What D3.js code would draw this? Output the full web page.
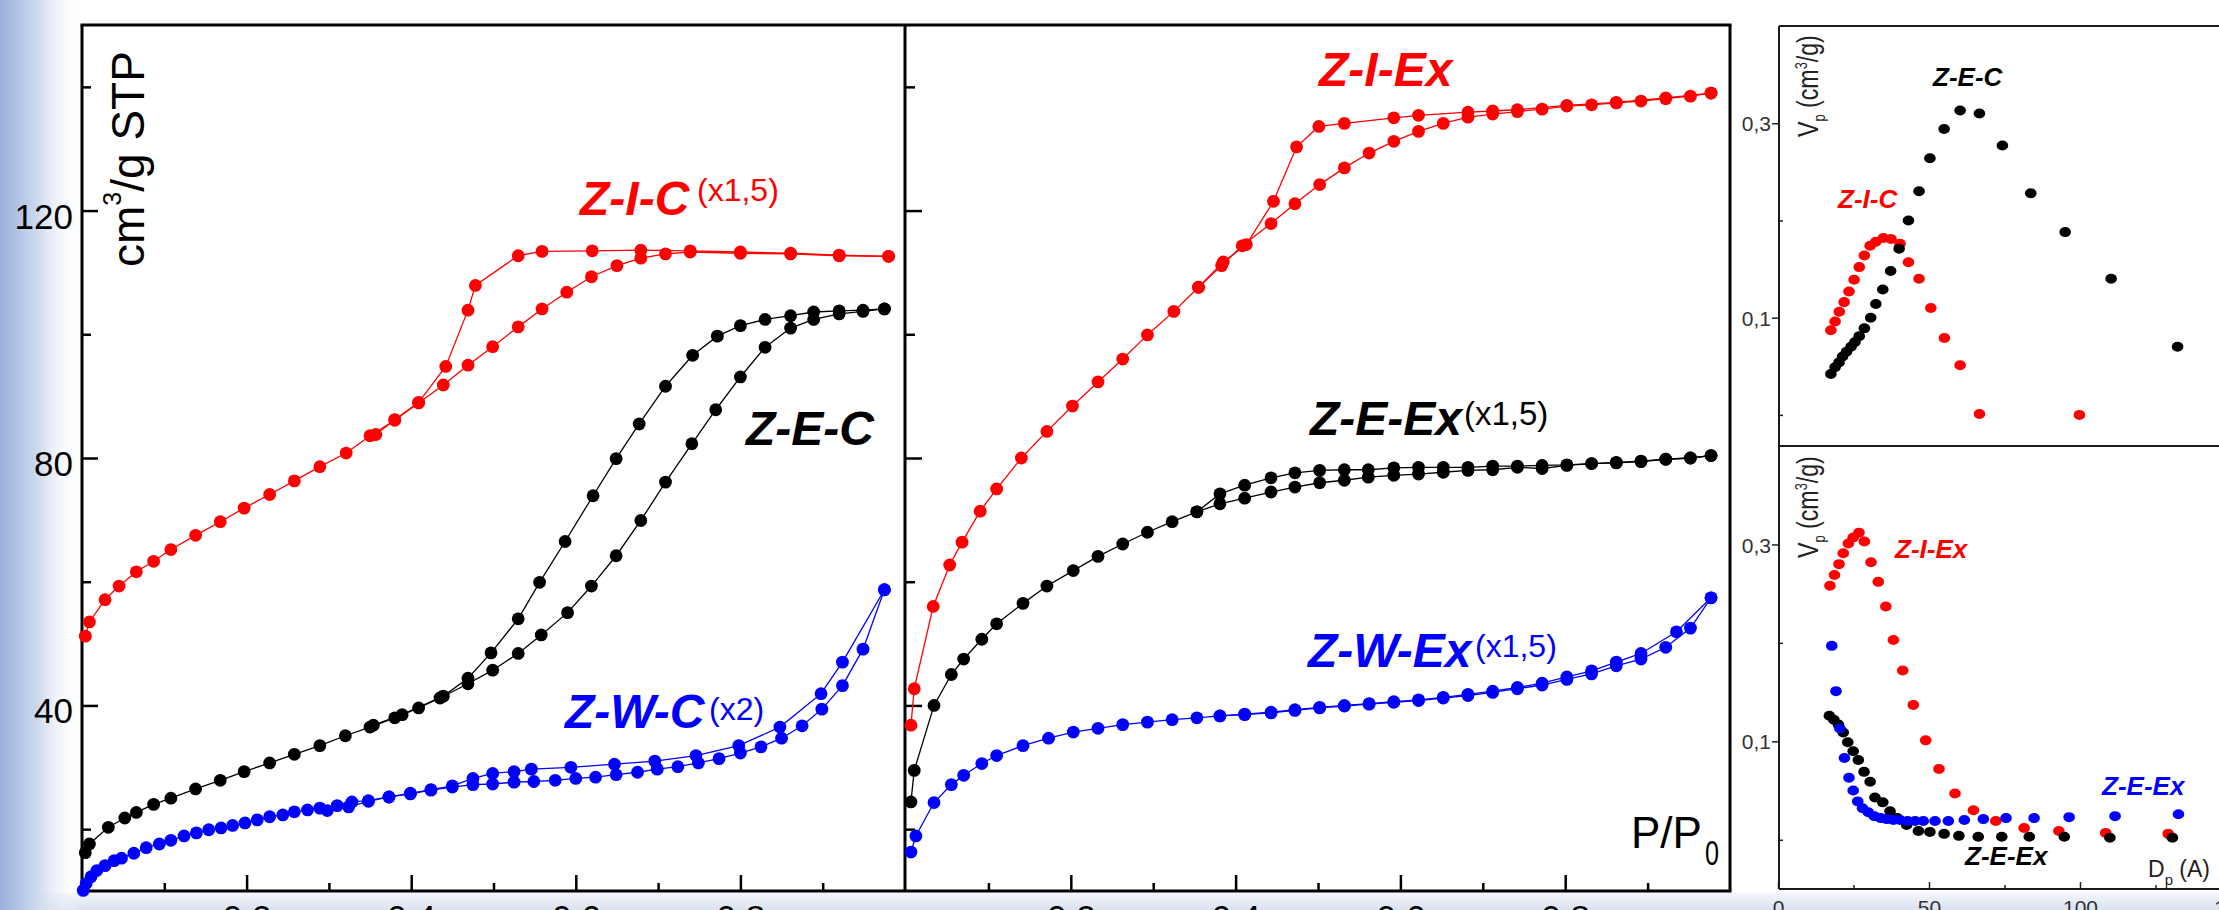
<!DOCTYPE html>
<html>
<head>
<meta charset="utf-8">
<script src="https://cdn.jsdelivr.net/npm/d3@7"></script>
<style>
html, body { margin: 0; padding: 0; background: #fff; overflow: hidden; }
svg { display: block; }
</style>
</head>
<body>
<svg id="chart" width="2219" height="910"></svg>
<script>
// ---------- Isotherms (P/P0, cm3/g STP) ----------
const zicAds = [[0.004,51.2],[0.009,53.5],[0.028,57.1],[0.045,59.3],[0.066,61.6],[0.087,63.3],[0.108,65.2],[0.138,67.5],[0.168,69.7],[0.197,71.9],[0.228,74.1],[0.258,76.3],[0.289,78.6],[0.321,80.8],[0.350,83.6],[0.380,86.1],[0.409,88.9],[0.439,91.8],[0.469,95.0],[0.499,98.0],[0.530,101.2],[0.559,104.1],[0.589,106.8],[0.619,109.3],[0.650,111.1],[0.679,112.3],[0.709,113.0],[0.739,113.3],[0.800,113.1],[0.861,113.0],[0.920,112.7],[0.980,112.6]];
const zicDes = [[0.980,112.6],[0.920,112.8],[0.861,113.1],[0.800,113.3],[0.739,113.5],[0.679,113.6],[0.620,113.5],[0.559,113.4],[0.530,112.7],[0.478,107.9],[0.469,103.9],[0.442,94.8],[0.409,89.0],[0.380,86.2],[0.357,83.8]];

const zecAds = [[0.004,16.2],[0.009,17.6],[0.032,20.3],[0.052,21.8],[0.066,22.7],[0.087,24.0],[0.108,25.0],[0.138,26.5],[0.168,27.9],[0.197,29.3],[0.228,30.7],[0.258,32.1],[0.289,33.5],[0.320,35.1],[0.350,36.5],[0.380,38.0],[0.409,39.6],[0.435,41.2],[0.469,43.5],[0.499,45.7],[0.530,48.4],[0.558,51.4],[0.590,55.0],[0.619,59.3],[0.649,64.2],[0.679,69.9],[0.709,76.1],[0.741,82.3],[0.770,87.8],[0.800,93.1],[0.830,97.9],[0.861,101.0],[0.889,102.4],[0.920,103.3],[0.949,103.7],[0.975,104.1]];
const zecDes = [[0.975,104.1],[0.949,103.9],[0.920,103.8],[0.889,103.6],[0.861,103.0],[0.830,102.4],[0.800,101.4],[0.772,99.7],[0.742,96.6],[0.709,91.6],[0.677,85.5],[0.649,79.9],[0.621,73.9],[0.587,66.5],[0.556,59.9],[0.530,54.0],[0.497,48.5],[0.469,44.4],[0.439,41.5],[0.389,38.5],[0.354,36.8]];

const zwcAds = [[0.0015,10.1],[0.005,11.2],[0.011,12.3],[0.018,13.3],[0.028,14.1],[0.039,14.9],[0.048,15.3],[0.063,16.1],[0.078,17.0],[0.094,17.6],[0.108,18.2],[0.124,18.9],[0.139,19.4],[0.154,19.9],[0.169,20.2],[0.183,20.6],[0.198,21.0],[0.213,21.5],[0.228,22.0],[0.244,22.3],[0.258,22.8],[0.274,23.1],[0.289,23.4],[0.310,23.8],[0.328,24.4],[0.348,24.6],[0.373,25.2],[0.399,25.7],[0.424,26.3],[0.450,26.8],[0.475,27.2],[0.499,27.3],[0.525,27.6],[0.549,27.7],[0.575,27.9],[0.600,28.2],[0.624,28.4],[0.649,28.8],[0.675,29.2],[0.699,29.7],[0.724,30.1],[0.749,30.7],[0.774,31.4],[0.800,32.3],[0.825,33.3],[0.850,34.7],[0.875,36.7],[0.899,39.4],[0.924,43.2],[0.949,49.1],[0.975,58.7]];
const zwcDes = [[0.975,58.7],[0.924,47.0],[0.898,41.9],[0.848,36.5],[0.798,33.5],[0.746,31.9],[0.696,31.0],[0.647,30.5],[0.594,30.0],[0.546,29.7],[0.525,29.3],[0.499,29.0],[0.475,28.2],[0.450,27.0],[0.424,26.4],[0.399,25.8],[0.373,25.2],[0.348,24.5],[0.324,23.6],[0.298,23.0]];

const zieAds = [[0.006,36.8],[0.010,42.7],[0.033,56.0],[0.053,62.7],[0.068,66.4],[0.090,71.4],[0.110,75.0],[0.140,80.0],[0.171,84.3],[0.202,88.4],[0.233,92.3],[0.263,96.0],[0.293,99.9],[0.325,103.7],[0.355,107.6],[0.383,111.1],[0.408,114.3],[0.443,117.9],[0.472,121.1],[0.502,124.2],[0.532,126.9],[0.562,129.3],[0.592,131.2],[0.622,132.8],[0.652,134.1],[0.682,135.1],[0.712,135.6],[0.742,136.0],[0.772,136.4],[0.802,136.9],[0.832,137.1],[0.862,137.4],[0.892,137.7],[0.922,138.1],[0.952,138.5],[0.977,139.0]];
const zieDes = [[0.977,139.0],[0.922,138.2],[0.862,137.5],[0.802,137.0],[0.742,136.3],[0.712,136.1],[0.682,135.9],[0.622,135.4],[0.592,135.0],[0.532,134.1],[0.501,133.6],[0.474,130.3],[0.446,121.5],[0.413,114.5],[0.385,111.7],[0.355,107.6]];

const zeeAds = [[0.006,24.4],[0.010,29.5],[0.034,40.0],[0.055,45.0],[0.070,47.5],[0.092,50.7],[0.110,53.2],[0.142,56.5],[0.171,59.3],[0.203,61.8],[0.233,64.1],[0.263,66.1],[0.293,68.0],[0.323,69.7],[0.353,71.3],[0.381,72.6],[0.411,73.5],[0.443,74.5],[0.472,75.3],[0.502,76.0],[0.532,76.4],[0.561,76.9],[0.592,77.2],[0.622,77.4],[0.652,77.7],[0.682,78.0],[0.712,78.1],[0.742,78.5],[0.772,78.3],[0.802,78.8],[0.832,79.1],[0.862,79.2],[0.892,79.4],[0.922,79.8],[0.952,80.0],[0.977,80.4]];
const zeeDes = [[0.977,80.4],[0.952,80.0],[0.922,79.8],[0.892,79.5],[0.862,79.3],[0.832,79.1],[0.802,78.9],[0.772,78.8],[0.742,78.7],[0.712,78.7],[0.682,78.5],[0.652,78.5],[0.622,78.5],[0.592,78.4],[0.561,78.1],[0.532,78.1],[0.502,78.0],[0.472,77.6],[0.443,76.8],[0.411,75.6],[0.381,74.2],[0.353,71.3]];

const zweAds = [[0.006,16.3],[0.012,18.9],[0.034,24.3],[0.055,27.2],[0.070,28.7],[0.092,30.6],[0.110,31.9],[0.142,33.5],[0.173,34.7],[0.203,35.7],[0.233,36.3],[0.263,36.9],[0.293,37.3],[0.323,37.7],[0.353,38.0],[0.381,38.3],[0.411,38.5],[0.443,38.8],[0.472,39.2],[0.502,39.6],[0.532,39.9],[0.562,40.2],[0.592,40.5],[0.622,40.8],[0.652,41.2],[0.682,41.6],[0.712,42.1],[0.742,42.7],[0.772,43.3],[0.802,44.2],[0.832,45.1],[0.862,46.4],[0.892,47.5],[0.922,49.4],[0.952,52.5],[0.977,57.4]];
const zweDes = [[0.977,57.4],[0.935,51.9],[0.892,48.4],[0.862,47.0],[0.832,45.6],[0.802,44.6],[0.772,43.6],[0.742,42.9],[0.712,42.3],[0.682,41.8],[0.652,41.3],[0.622,40.9],[0.592,40.6],[0.562,40.3],[0.532,40.0],[0.502,39.7],[0.472,39.3],[0.443,38.9],[0.411,38.6],[0.381,38.3]];

// ---------- Pore size distributions (Dp in A, Vp in cm3/g) ----------
const zecPsd = [[17.5,0.042],[18.9,0.049],[20.2,0.054],[21.4,0.060],[22.7,0.065],[24.2,0.070],[25.5,0.075],[26.9,0.081],[28.6,0.089],[30.7,0.100],[32.4,0.114],[34.7,0.129],[37.3,0.148],[40.1,0.171],[43.2,0.200],[46.7,0.230],[50.3,0.264],[55.0,0.294],[60.3,0.313],[66.7,0.310],[74.3,0.277],[83.7,0.228],[95.1,0.188],[110.3,0.140],[132.3,0.070]];
const zicPsd = [[17.5,0.087],[18.9,0.096],[20.3,0.106],[21.9,0.116],[23.5,0.127],[25.2,0.139],[26.9,0.152],[28.6,0.164],[30.5,0.174],[32.4,0.178],[34.9,0.182],[37.4,0.181],[40.4,0.176],[43.2,0.157],[46.7,0.140],[50.6,0.110],[55.1,0.079],[60.3,0.051],[66.7,0.001],[99.8,0.000]];

const ziePsd = [[17.2,0.258],[18.7,0.269],[20.2,0.280],[21.6,0.291],[23.3,0.301],[24.9,0.307],[26.8,0.312],[28.6,0.303],[30.8,0.282],[33.2,0.262],[35.7,0.237],[38.2,0.203],[41.3,0.172],[44.8,0.137],[48.9,0.101],[53.3,0.072],[58.6,0.047],[64.7,0.030],[72.1,0.019],[81.5,0.012],[93.0,0.009],[108.5,0.007],[129.2,0.006]];
const zeePsd = [[17.0,0.126],[18.5,0.122],[20.0,0.117],[21.6,0.109],[23.1,0.099],[24.9,0.090],[26.6,0.081],[28.5,0.069],[30.5,0.059],[32.1,0.043],[34.7,0.038],[37.1,0.029],[39.5,0.022],[42.6,0.015],[46.5,0.009],[50.3,0.008],[55.0,0.006],[59.9,0.004],[66.3,0.003],[74.1,0.003],[83.2,0.003],[94.8,0.003],[109.9,0.002],[130.6,0.002]];
const zwePsd = [[17.8,0.197],[19.2,0.151],[20.5,0.113],[22.0,0.083],[23.5,0.063],[24.9,0.050],[26.4,0.039],[28.0,0.032],[29.9,0.028],[31.9,0.024],[34.0,0.022],[36.0,0.021],[38.2,0.020],[40.4,0.020],[42.9,0.019],[45.4,0.019],[48.1,0.019],[52.0,0.019],[56.4,0.019],[61.7,0.020],[68.0,0.021],[75.5,0.022],[84.8,0.022],[96.4,0.023],[111.6,0.024],[132.6,0.026]];

// ---------- Ticks ----------
const isoYMajor = [40, 80, 120];
const isoYMinor = [20, 60, 100, 140];
const isoXMajor = [0.2, 0.4, 0.6, 0.8];
const isoXMinor = [0.1, 0.3, 0.5, 0.7, 0.9];
const psdYMajor = [0.1, 0.3];
const psdYMinor = [0.0, 0.2];
const psdXMajor = [0, 50, 100, 150];
const psdXMinor = [25, 75, 125];

const RED = "#ff0000", BLACK = "#000000", BLUE = "#0000ff";
const SANS = "'Liberation Sans', Arial, sans-serif";
const comma = d3.format(".1f");
const commaFmt = d => comma(d).replace(".", ",");

const svg = d3.select("#chart");
const W = 2219, H = 910;

// ---------- Slide background edges ----------
const defs = svg.append("defs");
const gb = defs.append("linearGradient").attr("id", "edgeB")
  .attr("x1", 0).attr("x2", 0).attr("y1", 0).attr("y2", 1);
gb.append("stop").attr("offset", 0).attr("stop-color", "#f3f6fb");
gb.append("stop").attr("offset", 1).attr("stop-color", "#dae2f0");
svg.append("rect").attr("x", 0).attr("y", 893).attr("width", W).attr("height", H - 893)
  .attr("fill", "url(#edgeB)");
const gl = defs.append("linearGradient").attr("id", "edgeL")
  .attr("x1", 0).attr("x2", 1).attr("y1", 0).attr("y2", 0);
gl.append("stop").attr("offset", 0).attr("stop-color", "#9bb1dc").attr("stop-opacity", 1);
gl.append("stop").attr("offset", 0.45).attr("stop-color", "#ccd8ee").attr("stop-opacity", 1);
gl.append("stop").attr("offset", 1).attr("stop-color", "#ffffff").attr("stop-opacity", 0);
svg.append("rect").attr("x", 0).attr("y", 0).attr("width", 82).attr("height", H)
  .attr("fill", "url(#edgeL)");

// ---------- Scales ----------
const yIso = d3.scaleLinear().domain([10, 150]).range([891, 25]);
const xIso1 = d3.scaleLinear().domain([0, 1]).range([82, 905]);
const xIso2 = d3.scaleLinear().domain([0, 1]).range([906, 1730]);
const xPsd = d3.scaleLinear().domain([0, 150]).range([1778, 2231]);
const yPsdTop = d3.scaleLinear().domain([-0.032, 0.4]).range([446, 26]);
const yPsdBot = d3.scaleLinear().domain([-0.05, 0.4]).range([889, 446]);

// ---------- Axes helpers ----------
function styleAxis(g, fontSize, color) {
  g.select(".domain").remove();
  g.selectAll(".tick line").attr("stroke", color);
  g.selectAll(".tick text").attr("font-family", SANS).attr("font-size", fontSize).attr("fill", color);
}

// Isotherm panels: inward ticks
function isoAxes(xs, withLabels) {
  const gy = svg.append("g").attr("transform", `translate(${xs.range()[0]},0)`);
  gy.call(d3.axisLeft(yIso).tickValues(isoYMajor).tickSizeInner(-16).tickSizeOuter(0).tickPadding(9)
    .tickFormat(withLabels ? d3.format("d") : () => ""));
  styleAxis(gy, 35, "#000");
  gy.selectAll(".tick line").attr("stroke-width", 2.5);
  gy.selectAll(".tick text").attr("dy", "0.5em");
  const gym = svg.append("g").attr("transform", `translate(${xs.range()[0]},0)`);
  gym.call(d3.axisLeft(yIso).tickValues(isoYMinor).tickSizeInner(-9).tickSizeOuter(0).tickFormat(() => ""));
  styleAxis(gym, 35, "#000");
  gym.selectAll(".tick line").attr("stroke-width", 2.5);

  const gx = svg.append("g").attr("transform", `translate(0,891)`);
  gx.call(d3.axisBottom(xs).tickValues(isoXMajor).tickSizeInner(-16).tickSizeOuter(0).tickPadding(14)
    .tickFormat(commaFmt));
  styleAxis(gx, 35, "#000");
  gx.selectAll(".tick line").attr("stroke-width", 2.5);
  const gxm = svg.append("g").attr("transform", `translate(0,891)`);
  gxm.call(d3.axisBottom(xs).tickValues(isoXMinor).tickSizeInner(-8).tickSizeOuter(0).tickFormat(() => ""));
  styleAxis(gxm, 35, "#000");
  gxm.selectAll(".tick line").attr("stroke-width", 2.5);
}
isoAxes(xIso1, true);
isoAxes(xIso2, false);

// PSD panels
function psdYAxes(ys) {
  const g = svg.append("g").attr("transform", "translate(1779,0)");
  g.call(d3.axisLeft(ys).tickValues(psdYMajor).tickSizeInner(7).tickSizeOuter(0).tickPadding(1)
    .tickFormat(commaFmt));
  styleAxis(g, 21, "#333");
  g.selectAll(".tick line").attr("stroke-width", 1.5).attr("stroke", "#222");
  g.selectAll(".tick text").attr("dy", "0.36em");
  const gm = svg.append("g").attr("transform", "translate(1779,0)");
  gm.call(d3.axisLeft(ys).tickValues(psdYMinor).tickSizeInner(-4).tickSizeOuter(0).tickFormat(() => ""));
  styleAxis(gm, 21, "#333");
  gm.selectAll(".tick line").attr("stroke-width", 1.5).attr("stroke", "#222");
}
psdYAxes(yPsdTop);
psdYAxes(yPsdBot);
{
  const g = svg.append("g").attr("transform", "translate(0,889)");
  g.call(d3.axisBottom(xPsd).tickValues(psdXMajor).tickSizeInner(-7).tickSizeOuter(0).tickPadding(11)
    .tickFormat(d3.format("d")));
  styleAxis(g, 21, "#333");
  g.selectAll(".tick line").attr("stroke-width", 1.5).attr("stroke", "#222");
  const gm = svg.append("g").attr("transform", "translate(0,889)");
  gm.call(d3.axisBottom(xPsd).tickValues(psdXMinor).tickSizeInner(-4).tickSizeOuter(0).tickFormat(() => ""));
  styleAxis(gm, 21, "#333");
  gm.selectAll(".tick line").attr("stroke-width", 1.5).attr("stroke", "#222");
}

// ---------- Frames ----------
const frame = svg.append("g").attr("stroke", "#000").attr("stroke-width", 3).attr("fill", "none");
frame.append("line").attr("x1", xIso1.range()[0] - 1.5).attr("x2", xIso2.range()[1] + 1.5).attr("y1", yIso.range()[1]).attr("y2", yIso.range()[1]);
frame.append("line").attr("x1", xIso1.range()[0] - 1.5).attr("x2", xIso2.range()[1] + 1.5).attr("y1", yIso.range()[0]).attr("y2", yIso.range()[0]);
[xIso1.range()[0], xIso1.range()[1], xIso2.range()[1]].forEach(x =>
  frame.append("line").attr("x1", x).attr("x2", x).attr("y1", yIso.range()[1]).attr("y2", yIso.range()[0]));

const pframe = svg.append("g").attr("stroke", "#1a1a1a").attr("stroke-width", 2).attr("fill", "none");
[26, 446, 889].forEach(y =>
  pframe.append("line").attr("x1", 1779).attr("x2", W).attr("y1", y).attr("y2", y));
pframe.append("line").attr("x1", 1779).attr("x2", 1779).attr("y1", 26).attr("y2", 889);

// ---------- Marks ----------
function isoSeries(xs, data, color) {
  const line = d3.line().x(d => xs(d[0])).y(d => yIso(d[1]));
  svg.append("path").datum(data).attr("d", line)
    .attr("fill", "none").attr("stroke", color).attr("stroke-width", 1.3);
  svg.append("g").selectAll("circle").data(data).join("circle")
    .attr("cx", d => xs(d[0])).attr("cy", d => yIso(d[1])).attr("r", 6.4).attr("fill", color);
}
isoSeries(xIso1, zicAds, RED);
isoSeries(xIso1, zicDes, RED);
isoSeries(xIso1, zecAds, BLACK);
isoSeries(xIso1, zecDes, BLACK);
isoSeries(xIso1, zwcAds, BLUE);
isoSeries(xIso1, zwcDes, BLUE);
isoSeries(xIso2, zieAds, RED);
isoSeries(xIso2, zieDes, RED);
isoSeries(xIso2, zeeAds, BLACK);
isoSeries(xIso2, zeeDes, BLACK);
isoSeries(xIso2, zweAds, BLUE);
isoSeries(xIso2, zweDes, BLUE);

function psdSeries(ys, data, color) {
  svg.append("g").selectAll("ellipse").data(data).join("ellipse")
    .attr("cx", d => xPsd(d[0])).attr("cy", d => ys(d[1]))
    .attr("rx", 5.8).attr("ry", 5).attr("fill", color);
}
psdSeries(yPsdTop, zicPsd, RED);
psdSeries(yPsdTop, zecPsd, BLACK);
psdSeries(yPsdBot, ziePsd, RED);
psdSeries(yPsdBot, zeePsd, BLACK);
psdSeries(yPsdBot, zwePsd, BLUE);

// ---------- Texts ----------
function label(x, y, txt, color, size, bold) {
  return svg.append("text").attr("x", x).attr("y", y).text(txt)
    .attr("fill", color).attr("font-family", SANS).attr("font-size", size)
    .attr("font-weight", bold ? "bold" : "normal").attr("font-style", bold ? "italic" : "normal");
}
label(580, 215, "Z-I-C", RED, 48, true);
label(697, 201, "(x1,5)", RED, 32, false);
label(746, 445, "Z-E-C", BLACK, 48, true);
label(565, 728, "Z-W-C", BLUE, 48, true);
label(709, 720, "(x2)", BLUE, 32, false);

label(1319, 86, "Z-I-Ex", RED, 48, true);
label(1310, 435, "Z-E-Ex", BLACK, 48, true);
label(1464, 425, "(x1,5)", BLACK, 33, false);
label(1308, 667, "Z-W-Ex", BLUE, 48, true);
label(1475, 657, "(x1,5)", BLUE, 32, false);

label(1933, 86, "Z-E-C", BLACK, 26, true);
label(1838, 208, "Z-I-C", RED, 26, true);
label(1895, 558, "Z-I-Ex", RED, 26, true);
label(2102, 795, "Z-E-Ex", BLUE, 26, true);
label(1965, 865, "Z-E-Ex", BLACK, 26, true);

// y title of isotherms
{
  const t = svg.append("text").attr("transform", "translate(143.5,267) rotate(-90)")
    .attr("font-family", SANS).attr("font-size", 46).attr("fill", "#000");
  t.append("tspan").text("cm");
  t.append("tspan").attr("font-size", 25).attr("dy", -23).text("3");
  t.append("tspan").attr("dy", 23).text("/g STP");
}
// x title of isotherms
label(1631, 848, "P/P", "#000", 44, false);
svg.append("text").attr("transform", "translate(1705,865) scale(0.7,1)")
  .attr("font-family", SANS).attr("font-size", 36).attr("fill", "#000").text("0");

// PSD titles
function vpTitle(x, y) {
  const t = svg.append("text").attr("transform", `translate(${x},${y}) rotate(-90) scale(0.8,1)`)
    .attr("font-family", SANS).attr("font-size", 29).attr("fill", "#222");
  t.append("tspan").text("V");
  t.append("tspan").attr("font-size", 16).attr("dy", 7).text("p");
  t.append("tspan").attr("dy", -7).text(" (cm");
  t.append("tspan").attr("font-size", 16).attr("dy", -11).text("3");
  t.append("tspan").attr("dy", 11).text("/g)");
}
vpTitle(1818, 137);
vpTitle(1818, 558);
{
  const t = svg.append("text").attr("x", 2148).attr("y", 877)
    .attr("font-family", SANS).attr("font-size", 23).attr("fill", "#222");
  t.append("tspan").text("D");
  t.append("tspan").attr("font-size", 15).attr("dy", 8).text("p");
  t.append("tspan").attr("dy", -8).text(" (A)");
}
</script>
</body>
</html>
